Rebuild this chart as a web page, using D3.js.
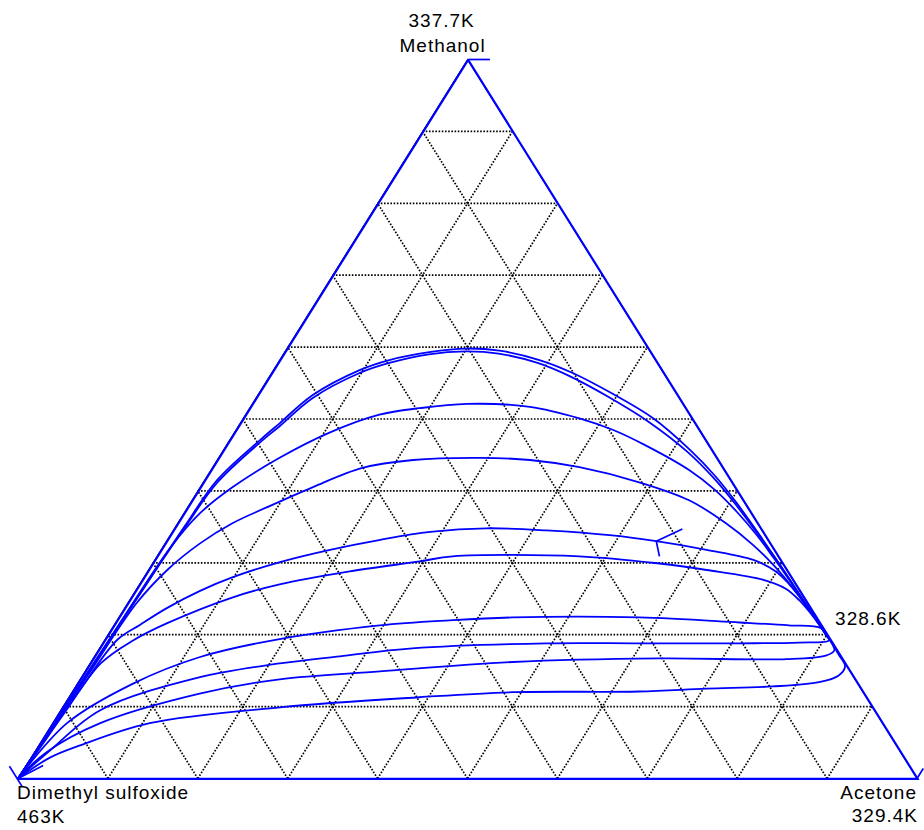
<!DOCTYPE html>
<html>
<head>
<meta charset="utf-8">
<script src="https://cdn.jsdelivr.net/npm/d3@7"></script>
<style>
  body { margin: 0; background: #fff; }
  text { font-family: "Liberation Sans", Arial, sans-serif; font-size: 19px; letter-spacing: 1px; fill: #000; }
</style>
</head>
<body>
<div id="chart"></div>
<script>
const w = 924;
const h = 830;

// vertex order: top, bottom left, bottom right
const components = ["Methanol", "Dimethyl sulfoxide", "Acetone"];
const boilingPoints = ["337.7K", "463K", "329.4K"];
const azeotropeLabel = "328.6K";
const azeotrope = [0.801, 0.198];
const gridLevels = [0.1, 0.2, 0.3, 0.4, 0.5, 0.6, 0.7, 0.8, 0.9];

// residue curves, each point is [x acetone, x methanol]
const curve1 = [[0.801,0.198],[0.764,0.234],[0.732,0.265],[0.696,0.300],[0.652,0.342],[0.608,0.383],[0.566,0.420],[0.519,0.457],[0.456,0.501],[0.394,0.535],[0.335,0.564],[0.289,0.582],[0.238,0.595],[0.200,0.598],[0.161,0.593],[0.122,0.582],[0.096,0.568],[0.061,0.533],[0.044,0.494],[0.034,0.471],[0.014,0.415],[0.010,0.350],[0.007,0.250],[0.004,0.150],[0.002,0.070],[0,0]];
const curve2 = [[0.801,0.198],[0.764,0.234],[0.732,0.265],[0.697,0.299],[0.653,0.340],[0.609,0.380],[0.566,0.417],[0.518,0.454],[0.452,0.497],[0.391,0.531],[0.333,0.560],[0.289,0.578],[0.239,0.591],[0.201,0.594],[0.162,0.590],[0.124,0.578],[0.098,0.564],[0.063,0.529],[0.046,0.490],[0.035,0.466],[0.016,0.412],[0.011,0.350],[0.007,0.250],[0.004,0.150],[0.002,0.070],[0,0]];
const curve3 = [[0.801,0.198],[0.752,0.245],[0.720,0.276],[0.687,0.307],[0.652,0.339],[0.614,0.371],[0.575,0.401],[0.532,0.429],[0.465,0.464],[0.419,0.485],[0.374,0.501],[0.311,0.517],[0.239,0.521],[0.189,0.515],[0.149,0.506],[0.106,0.481],[0.068,0.446],[0.036,0.405],[0.018,0.369],[0.009,0.322],[0.005,0.200],[0.003,0.100],[0,0]];
const curve4 = [[0.801,0.198],[0.757,0.240],[0.726,0.268],[0.693,0.296],[0.655,0.325],[0.610,0.355],[0.553,0.387],[0.485,0.412],[0.408,0.433],[0.348,0.443],[0.291,0.446],[0.218,0.443],[0.167,0.432],[0.125,0.405],[0.088,0.377],[0.061,0.355],[0.039,0.327],[0.021,0.290],[0.010,0.244],[0.006,0.150],[0.003,0.070],[0,0]];
const curve5 = [[0.801,0.198],[0.770,0.228],[0.746,0.250],[0.723,0.270],[0.699,0.288],[0.666,0.304],[0.607,0.318],[0.545,0.330],[0.492,0.338],[0.415,0.345],[0.347,0.348],[0.287,0.343],[0.237,0.332],[0.188,0.318],[0.141,0.301],[0.099,0.280],[0.072,0.261],[0.047,0.237],[0.029,0.214],[0.014,0.193],[0.007,0.120],[0.003,0.060],[0,0]];
const curve6 = [[0.801,0.198],[0.771,0.226],[0.745,0.248],[0.722,0.264],[0.692,0.276],[0.621,0.290],[0.564,0.299],[0.470,0.309],[0.329,0.309],[0.296,0.302],[0.225,0.288],[0.156,0.270],[0.113,0.252],[0.058,0.216],[0.032,0.192],[0.012,0.160],[0.006,0.090],[0.003,0.040],[0,0]];
const curve7 = [[0.801,0.198],[0.789,0.209],[0.751,0.213],[0.694,0.217],[0.579,0.224],[0.438,0.224],[0.370,0.220],[0.296,0.213],[0.194,0.194],[0.118,0.169],[0.062,0.132],[0.016,0.077],[0,0]];
const curve8 = [[0.801,0.198],[0.806,0.192],[0.774,0.189],[0.708,0.188],[0.597,0.188],[0.494,0.188],[0.348,0.181],[0.273,0.170],[0.211,0.160],[0.132,0.141],[0.044,0.095],[0.016,0.039],[0,0]];
const curve9 = [[0.801,0.198],[0.814,0.185],[0.819,0.178],[0.813,0.171],[0.772,0.166],[0.630,0.167],[0.469,0.162],[0.328,0.149],[0.222,0.138],[0.143,0.118],[0.053,0.077],[0.013,0.036],[0,0]];
const curve10 = [[0.801,0.198],[0.811,0.189],[0.826,0.173],[0.842,0.156],[0.841,0.143],[0.824,0.134],[0.775,0.128],[0.703,0.125],[0.630,0.121],[0.490,0.120],[0.390,0.113],[0.242,0.099],[0.108,0.077],[0.046,0.046],[0.021,0.029],[0,0]];
const curves = [curve1, curve2, curve3, curve4, curve5, curve6, curve7, curve8, curve9, curve10];

// direction marks (short strokes)
const marks = [
  [[0.5655,0.347],[0.545,0.330],[0.559,0.309]],
  [[-0.018,0.017],[0.010,-0.011]],
  [[0,0],[0.019,0.018]],
  [[1,0],[1.0,0.014]],
  [[0,1],[0.025,1]]
];

const xScale = d3.scaleLinear().domain([0, 1]).range([18, 917]);
const yScale = d3.scaleLinear().domain([0, 1]).range([778.5, 59.5]);
const px = d => xScale(d[0] + d[1] / 2);
const py = d => yScale(d[1]);

const svg = d3.select("#chart")
  .append("svg")
  .attr("width", w)
  .attr("height", h);

const straight = d3.line().x(px).y(py);
const smooth = d3.line().x(px).y(py).curve(d3.curveCatmullRom.alpha(0.5));

// dotted grid
const gridLines = [];
gridLevels.forEach(l => {
  gridLines.push([[0, l], [1 - l, l]]);
  gridLines.push([[l, 0], [l, 1 - l]]);
  gridLines.push([[1 - l, 0], [0, 1 - l]]);
});

svg.selectAll("path.grid")
  .data(gridLines)
  .enter()
  .append("path")
  .attr("class", "grid")
  .attr("d", straight)
  .attr("fill", "none")
  .attr("stroke", "#000")
  .attr("stroke-width", 1.7)
  .attr("stroke-dasharray", "1.6,1.6");

// triangle frame
const frame = [[0, 1], [0, 0], [1, 0], [0, 1]];
svg.append("path")
  .attr("d", straight(frame))
  .attr("fill", "none")
  .attr("stroke", "#000")
  .attr("stroke-width", 1);
svg.append("path")
  .attr("d", straight(frame))
  .attr("fill", "none")
  .attr("stroke", "#0000ff")
  .attr("stroke-width", 2.2)
  .attr("transform", "translate(0.6,0.4)");

svg.selectAll("path.curve")
  .data(curves)
  .enter()
  .append("path")
  .attr("class", "curve")
  .attr("d", smooth)
  .attr("fill", "none")
  .attr("stroke", "#0000ff")
  .attr("stroke-width", 1.8)
  .attr("stroke-linejoin", "round");

svg.selectAll("path.mark")
  .data(marks)
  .enter()
  .append("path")
  .attr("class", "mark")
  .attr("d", straight)
  .attr("fill", "none")
  .attr("stroke", "#0000ff")
  .attr("stroke-width", 1.7);

// labels
const vTop = [0, 1], vLeft = [0, 0], vRight = [1, 0];
svg.append("text").attr("x", px(vTop) - 59).attr("y", py(vTop) - 33).text(boilingPoints[0]);
svg.append("text").attr("x", px(vTop) - 68).attr("y", py(vTop) - 8).text(components[0]);
svg.append("text").attr("x", px(vLeft) - 1).attr("y", py(vLeft) + 20).text(components[1]);
svg.append("text").attr("x", px(vLeft) - 1).attr("y", py(vLeft) + 44).text(boilingPoints[1]);
svg.append("text").attr("x", px(vRight)).attr("y", py(vRight) + 20).attr("text-anchor", "end").text(components[2]);
svg.append("text").attr("x", px(vRight) + 1).attr("y", py(vRight) + 43).attr("text-anchor", "end").text(boilingPoints[2]);
svg.append("text").attr("x", px(azeotrope) + 8).attr("y", py(azeotrope) - 11).text(azeotropeLabel);
</script>
</body>
</html>
